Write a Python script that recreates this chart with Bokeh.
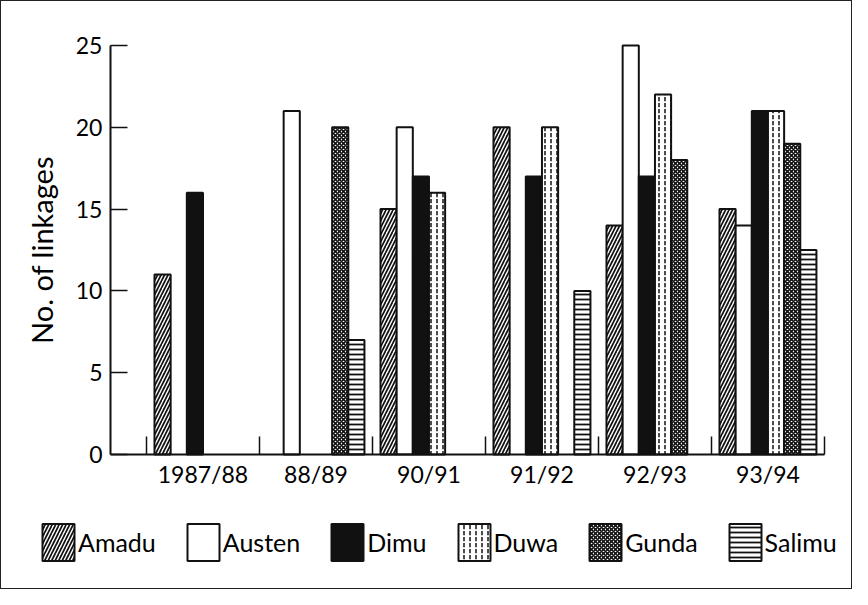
import math
from bokeh.plotting import figure
from bokeh.models import ColumnDataSource, FixedTicker, Legend, LegendItem, Range1d
from bokeh.embed import file_html
from bokeh.resources import INLINE

# ---- data ----
seasons = ["1987/88", "88/89", "90/91", "91/92", "92/93", "93/94"]
amadu = [11, 0, 15, 20, 14, 15]
austen = [0, 21, 20, 0, 25, 14]
dimu = [16, 0, 17, 17, 17, 21]
duwa = [0, 0, 16, 20, 22, 21]
gunda = [0, 20, 0, 0, 18, 19]
salimu = [0, 7, 0, 10, 0, 12.5]
y_ticks = [0, 5, 10, 15, 20, 25]

series = [
    ("Amadu", amadu, dict(fill_color="white", hatch_pattern="/", hatch_scale=7, hatch_weight=1.7, hatch_color="#111")),
    ("Austen", austen, dict(fill_color="white")),
    ("Dimu", dimu, dict(fill_color="#111")),
    ("Duwa", duwa, dict(fill_color="white", hatch_pattern=":", hatch_scale=6, hatch_weight=1.5, hatch_color="#111")),
    ("Gunda", gunda, dict(fill_color="white", hatch_pattern="x", hatch_scale=4, hatch_weight=1.6, hatch_color="#111")),
    ("Salimu", salimu, dict(fill_color="white", hatch_pattern="-", hatch_scale=5, hatch_weight=1.8, hatch_color="#111")),
]

FONT = "Lato"
INK = "#111111"

# plot area spans the whole canvas; axes are pinned at fixed locations
X_LEFT, X_RIGHT = -1.783, 5.757
Y_BOTTOM, Y_TOP = -8.31, 27.69
AXIS_X = -0.8186          # where the y axis sits
GROUP_EDGE_R = len(seasons) - 0.5

p = figure(width=852, height=589,
           x_range=Range1d(X_LEFT, X_RIGHT), y_range=Range1d(Y_BOTTOM, Y_TOP),
           output_backend="svg", toolbar_location=None,
           min_border_left=0, min_border_right=0,
           min_border_top=0, min_border_bottom=0)
p.outline_line_color = None
p.xgrid.visible = False
p.ygrid.visible = False
p.styles = {"border": "1.5px solid #222", "box-sizing": "border-box"}

n = len(series)
slot = 0.143
idx = list(range(len(seasons)))
items = []
for k, (name, vals, style) in enumerate(series):
    off = (k - (n - 1) / 2) * slot
    src = ColumnDataSource(dict(
        x=[i + off for i in idx],
        top=[v if v > 0 else math.nan for v in vals],
    ))
    r = p.vbar(x="x", top="top", bottom=0, width=slot, source=src,
               line_color=INK, line_width=2, **style)
    items.append(LegendItem(label=name, renderers=[r]))

# x axis
xa = p.xaxis[0]
xa.fixed_location = 0
xa.bounds = (AXIS_X, GROUP_EDGE_R)
xa.ticker = FixedTicker(ticks=idx, minor_ticks=[i - 0.5 for i in range(len(seasons) + 1)])
xa.major_label_overrides = {i: s for i, s in enumerate(seasons)}
xa.major_tick_in = 0
xa.major_tick_out = 0
xa.minor_tick_in = 18
xa.minor_tick_out = 0
xa.minor_tick_line_width = 1.5
xa.minor_tick_line_color = INK
xa.axis_line_width = 2
xa.axis_line_color = INK
xa.major_label_text_font = FONT
xa.major_label_text_font_size = "23px"
xa.major_label_text_color = "black"
xa.major_label_standoff = 5

# y axis
ya = p.yaxis[0]
ya.fixed_location = AXIS_X
ya.bounds = (0, 25)
ya.ticker = FixedTicker(ticks=y_ticks)
ya.major_tick_in = 17
ya.major_tick_out = 0
ya.major_tick_line_width = 1.5
ya.major_tick_line_color = INK
ya.minor_tick_line_color = None
ya.axis_line_width = 2
ya.axis_line_color = INK
ya.major_label_text_font = FONT
ya.major_label_text_font_size = "23px"
ya.major_label_text_color = "black"
ya.major_label_standoff = 8
ya.axis_label = "No. of linkages"
ya.axis_label_text_font = FONT
ya.axis_label_text_font_style = "normal"
ya.axis_label_text_font_size = "29px"
ya.axis_label_text_color = "black"
ya.axis_label_standoff = 14

legend = Legend(items=items, orientation="horizontal", location=(37, 25),
                glyph_width=40, glyph_height=46, label_standoff=0, spacing=27,
                padding=0, margin=0, border_line_color=None,
                background_fill_alpha=0,
                label_text_font=FONT, label_text_font_size="25px",
                label_text_color="black")
p.add_layout(legend)

open("out.html", "w").write(file_html(p, INLINE))
